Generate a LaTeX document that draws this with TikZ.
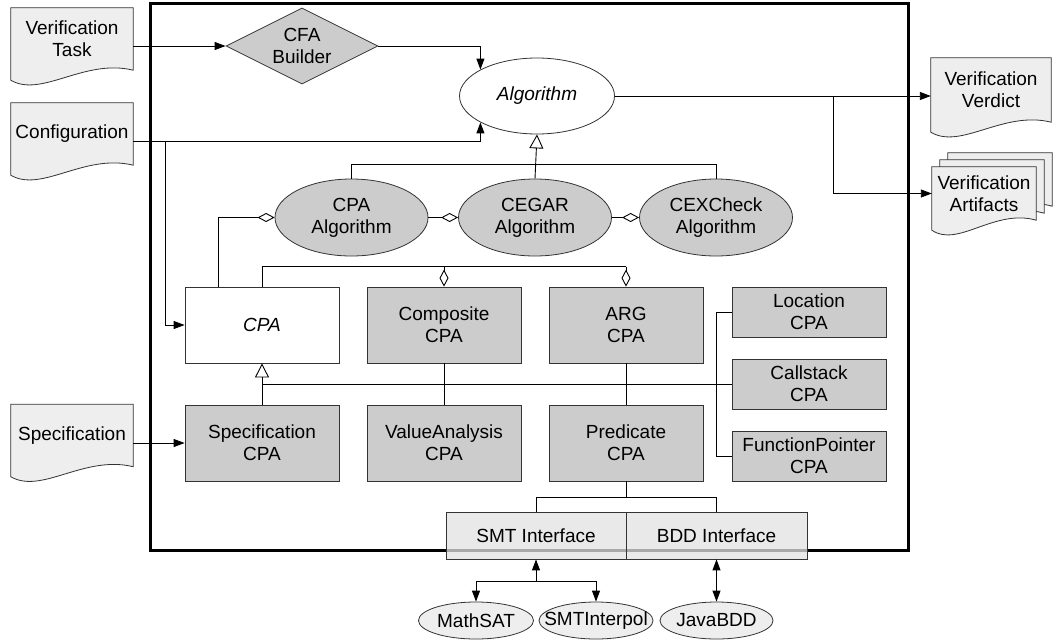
\documentclass[tikz,border=0pt]{standalone}
\usepackage{fontspec}
\setmainfont{Liberation Sans}
\usetikzlibrary{arrows.meta,shapes.geometric,calc,backgrounds}

\definecolor{boxgray}{HTML}{CCCCCC}
\definecolor{docgray}{HTML}{EEEEEE}
\definecolor{ifgray}{HTML}{E2E2E2}
\definecolor{edge}{HTML}{333333}

% Document symbol (flat top, wavy bottom) around a node; optional offset for stacked copies
\newcommand\docshape[2][0,0]{%
  \filldraw[docline]
    ($(#2.north west)+(#1)$) -- ($(#2.north east)+(#1)$) -- ($(#2.south east)+(#1)$)
    .. controls ($(#2.south west)!0.6!(#2.south east)+(#1)+(0,-12)$)
           and ($(#2.south west)!0.25!(#2.south east)+(#1)+(0,28)$)
    .. ($(#2.south west)+(#1)+(0,10)$) -- cycle;}

\begin{document}
\begin{tikzpicture}[x=1pt,y=-1pt,
  every node/.style={font=\fontsize{19}{22}\selectfont, align=center, inner sep=0pt},
  line/.style={line width=0.9pt},
  arr/.style={line, -{Triangle[length=11pt,width=8pt]}},
  arrboth/.style={line, {Triangle[length=11pt,width=8pt]}-{Triangle[length=11pt,width=8pt]}},
  gen/.style={line, -{Triangle[open,length=14pt,width=14pt]}},
  agg/.style={line, -{Diamond[open,length=17pt,width=9pt]}},
  cls/.style={draw=edge, line width=0.8pt, fill=boxgray, minimum width=154pt, minimum height=76pt},
  smallcls/.style={cls, minimum height=50pt},
  abstractcls/.style={cls, fill=white, font=\fontsize{19}{22}\selectfont\itshape},
  algo/.style={ellipse, draw=edge, line width=0.8pt, fill=boxgray, minimum width=153pt, minimum height=77pt},
  lib/.style={ellipse, draw=edge, line width=0.8pt, fill=docgray, inner xsep=-14pt, inner ysep=2pt,
              minimum width=115pt, minimum height=37pt},
  iface/.style={draw=edge, line width=0.8pt, fill=ifgray, fill opacity=0.75, text opacity=1,
                minimum width=180pt, minimum height=47pt},
  doc/.style={minimum width=122pt, minimum height=62pt},
  docline/.style={draw=edge, line width=0.8pt, fill=docgray}
]
\useasboundingbox (0,0) rectangle (1054,643);

% system boundary
\node[draw, line width=3pt, minimum width=758pt, minimum height=547pt] (sys) at (529,276.5) {};

% input and output documents
\node[doc] (vtask) at (72,39) {Verification\\Task};
\node[doc] (config) at (72,134) {Configuration};
\node[doc] (spec) at (72,435.5) {Specification};
\node[doc, minimum width=120pt, minimum height=64pt] (verdict) at (991,90) {Verification\\Verdict};
\node[doc, minimum width=104pt, minimum height=53pt] (art) at (984,193.5) {Verification\\Artifacts};
\begin{scope}[on background layer]
  \docshape{vtask}
  \docshape{config}
  \docshape{spec}
  \docshape{verdict}
  \docshape[16,-14]{art}
  \docshape[8,-7]{art}
  \docshape{art}
\end{scope}

% front end and algorithms
\node[diamond, aspect=2, draw=edge, line width=0.8pt, fill=boxgray,
      minimum width=152pt, minimum height=76pt] (cfa) at (302,46) {CFA\\Builder};
\node[algo, fill=white, minimum width=155pt, minimum height=76pt,
      font=\fontsize{19}{22}\selectfont\itshape] (alg) at (537,96) {Algorithm};
\node[algo] (cpaalg) at (351.5,217.5) {CPA\\Algorithm};
\node[algo] (cegar) at (535,217.5) {CEGAR\\Algorithm};
\node[algo] (cexalg) at (716,217.5) {CEXCheck\\Algorithm};

% configurable program analyses
\node[abstractcls] (cpa) at (262,325) {CPA};
\node[cls] (comp) at (444,325) {Composite\\CPA};
\node[cls] (arg) at (626,325) {ARG\\CPA};
\node[smallcls] (loc) at (809,312) {Location\\CPA};
\node[smallcls] (call) at (809,384) {Callstack\\CPA};
\node[smallcls] (fp) at (809,456) {FunctionPointer\\CPA};
\node[cls] (speccpa) at (262,443) {Specification\\CPA};
\node[cls] (va) at (444,443) {ValueAnalysis\\CPA};
\node[cls] (pred) at (626,443) {Predicate\\CPA};

% solver interfaces and libraries
\node[iface] (smt) at (536,535.5) {SMT Interface};
\node[iface, minimum width=181pt] (bdd) at (716.5,535.5) {BDD Interface};
\node[lib] (mathsat) at (476,620.5) {MathSAT};
\node[lib, minimum width=114pt] (smtint) at (596,620.5) {SMTInterpol};
\node[lib, minimum width=113pt] (javabdd) at (716.5,620.5) {JavaBDD};

% inputs
\draw[arr] (vtask.east |- cfa.west) -- (cfa.west);
\draw[arr] (cfa.east) -| (alg.155);
\coordinate (cfgout) at ($(config.east)+(0,7)$);
\draw[arr] (cfgout) -| (alg.205);
\draw[arr] ($(cfgout)+(32,0)$) |- (cpa.west);
\draw[arr] (spec.east |- speccpa.west) -- (speccpa.west);

% outputs
\draw[arr] (alg.east) -- (alg.east -| verdict.west);
\draw[arr] ($(alg.east)+(219,0)$) |- (art.west);

% algorithm hierarchy
\draw[gen] (cegar.north) -- (alg.south);
\draw[line] (cpaalg.north) -- ++(0,-14) -| (cexalg.north);
\draw[agg] ($(cpa.north west)+(34,0)$) |- (cpaalg.west);
\draw[agg] (cpaalg.east) -- (cegar.west);
\draw[agg] (cegar.east) -- (cexalg.west);

% CPA composition
\coordinate (cpabar) at ($(cpa.north)+(0,-20)$);
\draw[line] (cpa.north) -- (cpabar) -- (cpabar -| arg.north);
\draw[agg] (cpabar -| comp.north) -- (comp.north);
\draw[agg] (cpabar -| arg.north) -- (arg.north);

% CPA hierarchy
\draw[gen] (speccpa.north) -- (cpa.south);
\draw[line] (call.west) -- (call.west -| cpa.south);
\draw[line] (loc.west) -- ++(-15,0) |- (fp.west);
\draw[line] (comp.south) -- (va.north);
\draw[line] (arg.south) -- (pred.north);

% predicate analysis back ends
\coordinate (predbar) at ($(pred.south)+(0,16)$);
\draw[line] (pred.south) -- (predbar);
\draw[line] (smt.north) |- (predbar) -| (bdd.north);
\coordinate (smtj) at ($(smt.south)+(0,22)$);
\draw[arr] (smtj) -- (smt.south);
\draw[arr] (smtj) -| (mathsat.north);
\draw[arr] (smtj) -| (smtint.north);
\draw[arrboth] (bdd.south) -- (javabdd.north);
\end{tikzpicture}
\end{document}
